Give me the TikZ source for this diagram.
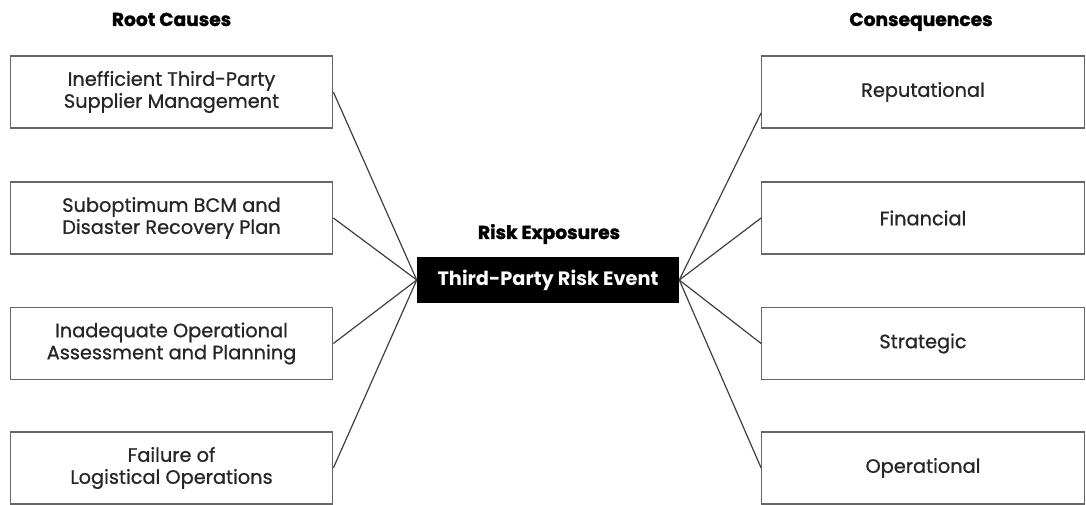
\documentclass[tikz,border=0pt]{standalone}
\usepackage{fontspec}
\setmainfont{Poppins}
\newfontfamily\medfont{Poppins}[FakeBold=0.8]
\newfontfamily\heavyfont{Poppins}[BoldFeatures={FakeBold=1.5}]
\usetikzlibrary{calc}
\begin{document}
\begin{tikzpicture}[x=0.75pt,y=-0.75pt,
  box/.style={draw=black!60,line width=0.8pt,fill=white,minimum width=242pt,minimum height=54pt,inner sep=0pt,align=center,font=\medfont\fontsize{14.5}{16.5}\selectfont,text=black!85},
  head/.style={anchor=base,font=\heavyfont\fontsize{14}{16}\selectfont\bfseries,text=black},
  centerbox/.style={fill=black,minimum width=196.5pt,minimum height=34.5pt,inner sep=0pt,font=\fontsize{14.5}{16}\selectfont\bfseries,text=white},
  link/.style={draw=black!75,line width=0.9pt}]
\useasboundingbox (0,0) rectangle (1086,505);
\node[head] (hl) at (171.5,26) {Root Causes};
\node[head] (hr) at (921,26) {Consequences};
\node[head] (hc) at (549,239) {Risk Exposures};
\node[centerbox] (c) at (548,280) {Third-Party Risk Event};
\node[box] (l1) at (171.5,92) {Inefficient Third-Party\\Supplier Management};
\node[box] (l2) at (171.5,218) {Suboptimum BCM and\\Disaster Recovery Plan};
\node[box] (l3) at (171.5,343.5) {Inadequate Operational\\Assessment and Planning};
\node[box] (l4) at (171.5,468) {Failure of\\Logistical Operations};
\node[box] (r1) at (923,92) {Reputational};
\node[box] (r2) at (923,218) {Financial};
\node[box] (r3) at (923,343.5) {Strategic};
\node[box] (r4) at (923,468) {Operational};
\foreach \n in {l1,l2,l3,l4} \draw[link] (\n.east) -- (c.west);
\draw[link] (c.east) -- ($(r1.west)+(0,21)$);
\foreach \n in {r2,r3,r4} \draw[link] (c.east) -- (\n.west);
\end{tikzpicture}
\end{document}
